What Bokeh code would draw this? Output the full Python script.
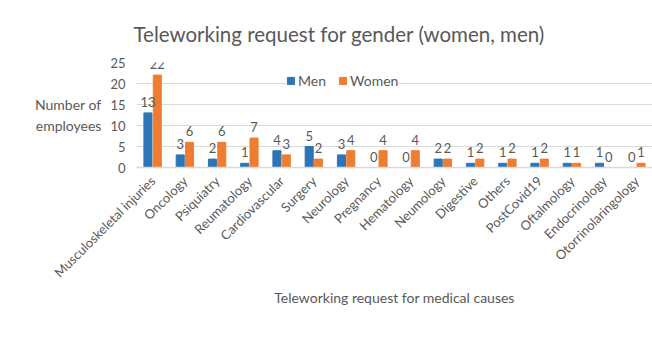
from bokeh.plotting import figure
from bokeh.models import (FactorRange, Range1d, Legend, LegendItem,
                          ColumnDataSource, FixedTicker)
from bokeh.transform import dodge
from bokeh.core.properties import value
from bokeh.embed import file_html
from bokeh.resources import INLINE

categories = ["Musculoskeletal injuries", "Oncology", "Psiquiatry", "Reumatology",
              "Cardiovascular", "Surgery", "Neurology", "Pregnancy", "Hematology",
              "Neumology", "Digestive", "Others", "PostCovid19", "Oftalmology",
              "Endocrinology", "Otorrinolaringology"]
men = [13, 3, 2, 1, 4, 5, 3, 0, 0, 2, 1, 1, 1, 1, 1, 0]
women = [22, 6, 6, 7, 3, 2, 4, 4, 4, 2, 2, 2, 2, 1, 0, 1]
y_ticks = [0, 5, 10, 15, 20, 25]

FONT = "Lato"
GRAY = "#595959"
BLUE = "#2E75B6"
ORANGE = "#ED7D31"
GRID = "#D9D9D9"

src = ColumnDataSource(dict(cat=categories, men=men, women=women,
                            men_lbl=[str(v) for v in men],
                            women_lbl=[str(v) for v in women]))

p = figure(width=652, height=362, x_range=FactorRange(factors=categories),
           y_range=Range1d(0, 25), output_backend="svg", toolbar_location=None,
           min_border_left=136, min_border_right=0, min_border_top=62,
           min_border_bottom=195)
p.outline_line_color = None
p.background_fill_color = "white"
p.border_fill_color = "white"

p.title.text = "Teleworking request for gender (women, men)"
p.title.align = "left"
p.title.offset = -3
p.title.text_font = FONT
p.title.text_font_size = "20.5px"
p.title.text_font_style = "normal"
p.title.text_color = GRAY
p.title.standoff = 34

r_men = p.vbar(x=dodge("cat", -0.145, range=p.x_range), top="men", width=0.25,
               source=src, color=BLUE)
r_women = p.vbar(x=dodge("cat", 0.145, range=p.x_range), top="women", width=0.25,
                 source=src, color=ORANGE)

for col, lbl, off in (("men", "men_lbl", -0.145), ("women", "women_lbl", 0.145)):
    p.text(x=dodge("cat", off, range=p.x_range), y=col, text=lbl, source=src,
           text_font=value(FONT), text_font_size="13px", text_color=GRAY,
           text_align="center", text_baseline="bottom", y_offset=-6)

p.yaxis.ticker = FixedTicker(ticks=y_ticks)
p.yaxis.axis_line_color = None
p.yaxis.major_tick_line_color = None
p.yaxis.minor_tick_line_color = None
p.yaxis.major_label_text_font = FONT
p.yaxis.major_label_text_font_size = "13px"
p.yaxis.major_label_text_color = GRAY
p.yaxis.axis_label = "Number of\nemployees"
p.yaxis.axis_label_orientation = "horizontal"
p.yaxis.axis_label_text_font = FONT
p.yaxis.axis_label_text_font_size = "14px"
p.yaxis.axis_label_text_font_style = "normal"
p.yaxis.axis_label_text_color = GRAY
p.yaxis.axis_label_standoff = 6

xax = p.xaxis[0]
xax.axis_line_color = GRID
xax.axis_line_width = 1.5
xax.major_tick_line_color = None
xax.minor_tick_line_color = None
xax.major_label_orientation = 0.785398
xax.major_label_text_font = FONT
xax.major_label_text_font_size = "13px"
xax.major_label_text_color = GRAY
xax.axis_label = "Teleworking request for medical causes"
xax.axis_label_text_font = FONT
xax.axis_label_text_font_size = "14px"
xax.axis_label_text_font_style = "normal"
xax.axis_label_text_color = GRAY
xax.axis_label_standoff = 0
xax.axis_label_align = "center"

p.xgrid.grid_line_color = None
p.ygrid.grid_line_color = GRID
p.ygrid.grid_line_width = 1

legend = Legend(items=[LegendItem(label="Men", renderers=[r_men]),
                       LegendItem(label="Women", renderers=[r_women])],
                location=(150, 78), orientation="horizontal")
legend.label_text_font = FONT
legend.label_text_font_size = "14px"
legend.label_text_color = GRAY
legend.glyph_width = 9
legend.glyph_height = 9
legend.label_standoff = 3
legend.spacing = 12
legend.padding = 2
legend.margin = 0
legend.border_line_color = None
legend.background_fill_color = "white"
legend.background_fill_alpha = 1
p.add_layout(legend)

open("out.html", "w").write(file_html(p, INLINE))
